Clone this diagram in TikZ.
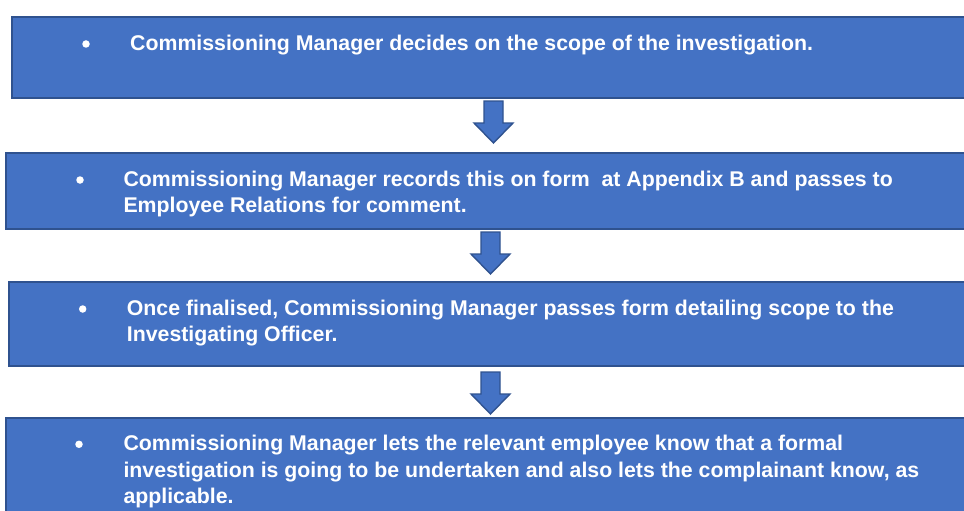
\documentclass[tikz,border=0pt]{standalone}
\usepackage{fontspec}
\setmainfont{Liberation Sans}
\definecolor{stagefill}{HTML}{4472C4}
\definecolor{stageedge}{HTML}{2F528F}
\begin{document}
\begin{tikzpicture}[x=1pt,y=-1pt,
  stagebox/.style={rectangle, draw=stageedge, fill=stagefill, line width=2pt,
    anchor=north west, inner sep=0pt, minimum width=980pt},
  stagetext/.style={anchor=base west, inner sep=0pt, align=left, text=white,
    font=\fontsize{21.3}{26.5}\selectfont\bfseries},
  bulletdot/.style={circle, fill=white, inner sep=0pt, minimum size=7.5pt},
  downarrow/.pic={\draw[draw=stageedge, fill=stagefill, line width=1.4pt, line join=miter]
    (-9.5,0) -- (9.5,0) -- (9.5,22) -- (19.5,22) -- (0,42) -- (-19.5,22) -- (-9.5,22) -- cycle;}]
\useasboundingbox (0,0) rectangle (964,511);
\clip (0,0) rectangle (964,511);
\fill[white] (0,0) rectangle (964,511);

% the four stages
\node[stagebox, minimum height=81pt]  (s1) at (11,16)  {};
\node[stagebox, minimum height=76pt]  (s2) at (5,152)  {};
\node[stagebox, minimum height=84pt]  (s3) at (8,281)  {};
\node[stagebox, minimum height=110pt] (s4) at (5,417)  {};

% bullets and texts (a multi-line node sits on the baseline of its last line)
\node[bulletdot] (b1) at (86,44) {};
\node[stagetext] (t1) at (130,50.5) {Commissioning Manager decides on the scope of the investigation.};

\node[bulletdot] (b2) at (80,180) {};
\node[stagetext] (t2) at (123.3,212.5) {Commissioning Manager records this on form\ \ at Appendix B and passes to\\Employee Relations for comment.};

\node[bulletdot] (b3) at (82.7,309) {};
\node[stagetext] (t3) at (126.7,341.5) {Once finalised, Commissioning Manager passes form detailing scope to the\\Investigating Officer.};

\node[bulletdot] (b4) at (79,444.3) {};
\node[stagetext] (t4) at (123.3,503.5) {Commissioning Manager lets the relevant employee know that a formal\\investigation is going to be undertaken and also lets the complainant know, as\\applicable.};

% block arrows between the stages
\pic at (493.5,101) {downarrow};
\pic at (490.5,232) {downarrow};
\pic at (490.5,372) {downarrow};
\end{tikzpicture}
\end{document}
